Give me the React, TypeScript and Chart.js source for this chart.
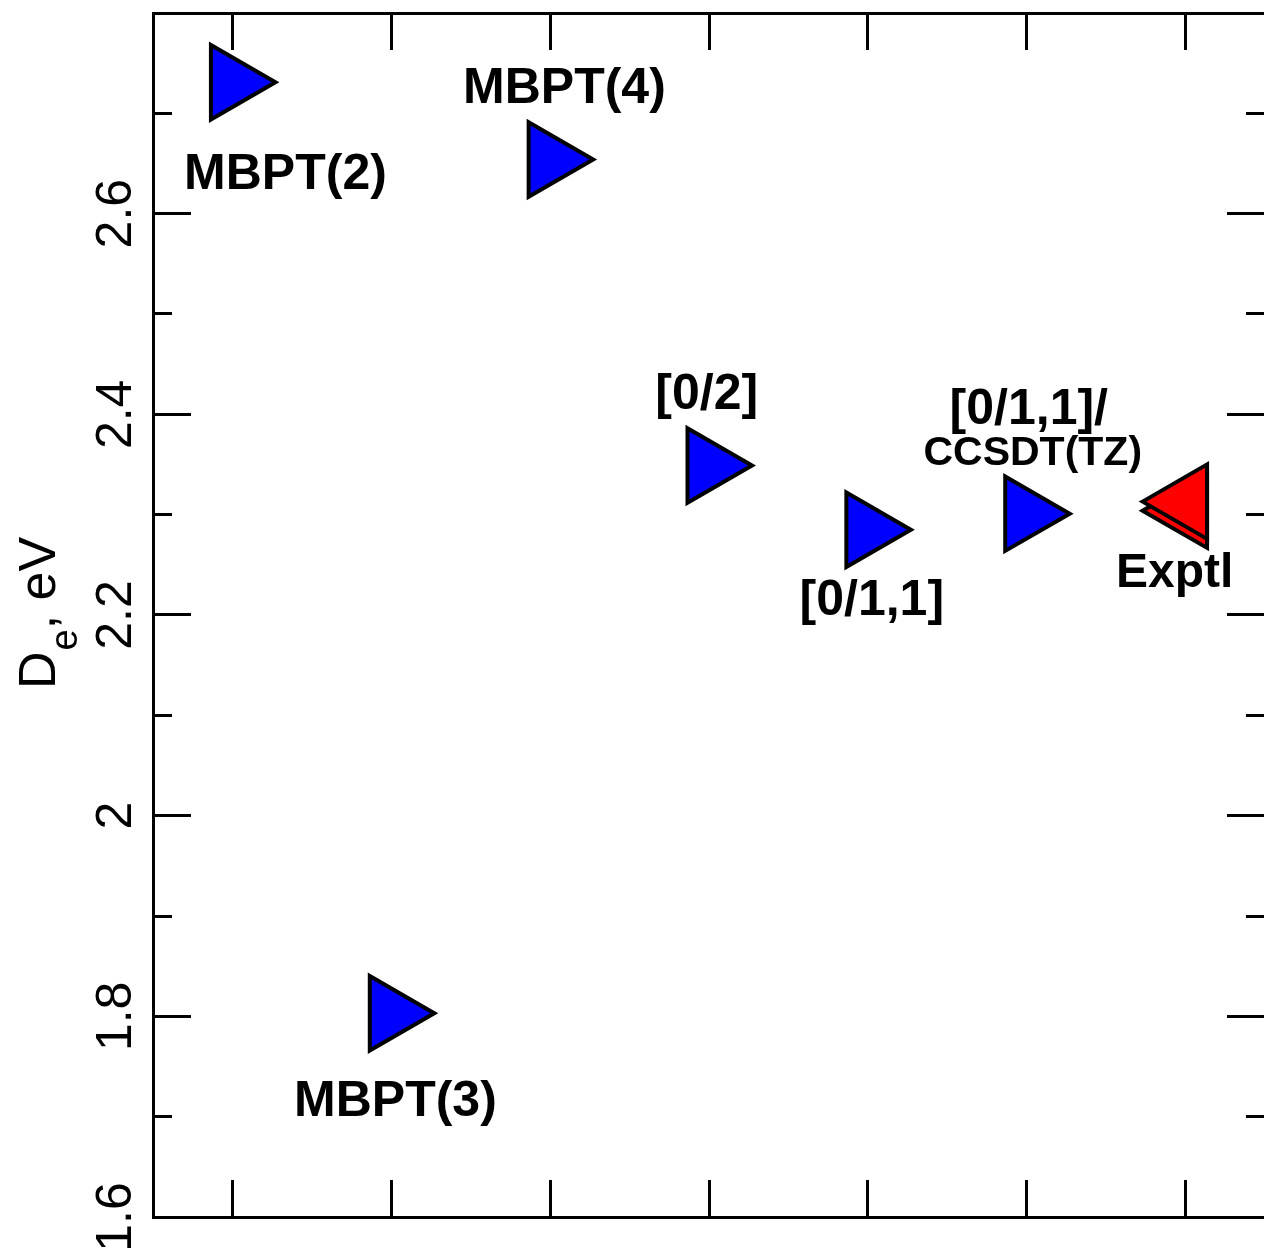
import { useEffect, useRef } from 'react';
import { Chart, registerables } from 'chart.js';

Chart.register(...registerables);

const FAMILY = '"Liberation Sans", Arial, Helvetica, sans-serif';

// Methods (x position index) and dissociation energies D_e (eV)
const methodNames = ['MBPT(2)', 'MBPT(3)', 'MBPT(4)', '[0/2]', '[0/1,1]', '[0/1,1]/CCSDT(TZ)'];
const methodX = [1, 2, 3, 4, 5, 6];
const methodDe = [2.731, 1.803, 2.654, 2.349, 2.285, 2.301];

// Experimental values (two overlapping markers)
const exptlX = [7, 7];
const exptlDe = [2.304, 2.313];

// Axis ticks
const xTickValues = [1, 2, 3, 4, 5, 6, 7];
const yMajorTicks = [1.6, 1.8, 2.0, 2.2, 2.4, 2.6];
const yMinorTicks = [1.7, 1.9, 2.1, 2.3, 2.5, 2.7];

// Text annotations (anchored in data coordinates, baseline)
const annotationTexts = ['MBPT(2)', 'MBPT(3)', 'MBPT(4)', '[0/2]', '[0/1,1]', '[0/1,1]/', 'CCSDT(TZ)', 'Exptl'];
const annotationX = [1.334, 2.026, 3.09, 3.986, 5.025, 6.013, 6.038, 6.932];
const annotationY = [2.625, 1.7006, 2.7106, 2.405, 2.1996, 2.39, 2.35, 2.2275];
const annotationSizes = [50, 50, 50, 50, 50, 50, 41, 48];

const X_MIN = 0.5;
const X_MAX = 7.5;
const Y_MIN = 1.6;
const Y_MAX = 2.8;

const annotationPlugin = {
  id: 'annotationTexts',
  afterDatasetsDraw(chart: any) {
    const { ctx, scales } = chart;
    const xs = scales.x;
    const ys = scales.y;
    ctx.save();
    ctx.fillStyle = '#000';
    ctx.textAlign = 'center';
    ctx.textBaseline = 'alphabetic';
    annotationTexts.forEach((t, i) => {
      ctx.font = `bold ${annotationSizes[i]}px ${FAMILY}`;
      ctx.fillText(t, xs.getPixelForValue(annotationX[i]), ys.getPixelForValue(annotationY[i]));
    });
    ctx.restore();
  },
};

const yTitlePlugin = {
  id: 'yTitle',
  afterDraw(chart: any) {
    const ctx = chart.ctx;
    ctx.save();
    ctx.fillStyle = '#000';
    ctx.translate(55, 689);
    ctx.rotate(-Math.PI / 2);
    ctx.textAlign = 'left';
    ctx.textBaseline = 'alphabetic';
    ctx.font = `52px ${FAMILY}`;
    ctx.fillText('D', 0, 0);
    let w = ctx.measureText('D').width;
    ctx.font = `38px ${FAMILY}`;
    ctx.fillText('e', w + 1, 22);
    w += ctx.measureText('e').width + 1;
    ctx.font = `52px ${FAMILY}`;
    ctx.fillText(', eV', w, 0);
    ctx.restore();
  },
};

function zeroPad(s: any) {
  s.paddingTop = 0;
  s.paddingBottom = 0;
  s.paddingLeft = 0;
  s.paddingRight = 0;
}

export default function App() {
  const ref = useRef<HTMLCanvasElement | null>(null);

  useEffect(() => {
    if (!ref.current) return;
    const tickGrid = (len: number) => ({
      display: true,
      drawOnChartArea: false,
      drawTicks: true,
      tickLength: len,
      tickWidth: 3,
      tickColor: '#000',
    });
    const frame = { display: true, width: 3, color: '#000' };
    const noFrame = { display: false };

    const chart = new Chart(ref.current, {
      type: 'scatter',
      data: {
        datasets: [
          {
            label: 'Methods',
            data: methodX.map((x, i) => ({ x, y: methodDe[i] })),
            pointStyle: 'triangle',
            pointRotation: 90,
            pointRadius: 43,
            pointBackgroundColor: '#0000ff',
            pointBorderColor: '#000',
            pointBorderWidth: 4,
            backgroundColor: '#0000ff',
            borderColor: '#000',
            xAxisID: 'x',
            yAxisID: 'y',
          } as any,
          {
            label: 'Exptl',
            data: exptlX.map((x, i) => ({ x, y: exptlDe[i] })),
            pointStyle: 'triangle',
            pointRotation: -90,
            pointRadius: 43,
            pointBackgroundColor: '#ff0000',
            pointBorderColor: '#000',
            pointBorderWidth: 4,
            backgroundColor: '#ff0000',
            borderColor: '#000',
            xAxisID: 'x',
            yAxisID: 'y',
          } as any,
        ],
      },
      options: {
        animation: false,
        responsive: false,
        devicePixelRatio: 1,
        events: [],
        layout: {
          autoPadding: false,
          padding: { left: 0, top: 13, right: 15, bottom: 33 },
        },
        plugins: {
          legend: { display: false },
          tooltip: { enabled: false },
          title: { display: false },
        },
        scales: {
          x: {
            type: 'linear',
            axis: 'x',
            position: 'bottom',
            min: X_MIN,
            max: X_MAX,
            afterBuildTicks: (s: any) => {
              s.ticks = xTickValues.map((value) => ({ value }));
            },
            afterFit: (s: any) => {
              s.height = 0;
              zeroPad(s);
            },
            grid: tickGrid(-37),
            border: frame,
            ticks: { display: false },
          },
          xTop: {
            type: 'linear',
            axis: 'x',
            position: 'top',
            min: X_MIN,
            max: X_MAX,
            afterBuildTicks: (s: any) => {
              s.ticks = xTickValues.map((value) => ({ value }));
            },
            afterFit: (s: any) => {
              s.height = 0;
              zeroPad(s);
            },
            grid: tickGrid(-37),
            border: frame,
            ticks: { display: false },
          },
          y: {
            type: 'linear',
            axis: 'y',
            position: 'left',
            weight: 2,
            min: Y_MIN,
            max: Y_MAX,
            afterBuildTicks: (s: any) => {
              s.ticks = yMajorTicks.map((value) => ({ value }));
            },
            afterFit: (s: any) => {
              s.width = 153;
              zeroPad(s);
            },
            grid: tickGrid(-38),
            border: frame,
            ticks: {
              display: true,
              minRotation: 90,
              maxRotation: 90,
              crossAlign: 'center',
              padding: 39,
              color: '#000',
              font: { size: 50, family: FAMILY },
              callback: (v: any) => String(+Number(v).toFixed(1)),
            },
          },
          yMinor: {
            type: 'linear',
            axis: 'y',
            position: 'left',
            weight: 1,
            min: Y_MIN,
            max: Y_MAX,
            afterBuildTicks: (s: any) => {
              s.ticks = yMinorTicks.map((value) => ({ value }));
            },
            afterFit: (s: any) => {
              s.width = 0;
              zeroPad(s);
            },
            grid: tickGrid(-19),
            border: noFrame,
            ticks: { display: false },
          },
          yRight: {
            type: 'linear',
            axis: 'y',
            position: 'right',
            weight: 1,
            min: Y_MIN,
            max: Y_MAX,
            afterBuildTicks: (s: any) => {
              s.ticks = yMajorTicks.map((value) => ({ value }));
            },
            afterFit: (s: any) => {
              s.width = 0;
              zeroPad(s);
            },
            grid: tickGrid(-38),
            border: frame,
            ticks: { display: false },
          },
          yRightMinor: {
            type: 'linear',
            axis: 'y',
            position: 'right',
            weight: 2,
            min: Y_MIN,
            max: Y_MAX,
            afterBuildTicks: (s: any) => {
              s.ticks = yMinorTicks.map((value) => ({ value }));
            },
            afterFit: (s: any) => {
              s.width = 0;
              zeroPad(s);
            },
            grid: tickGrid(-19),
            border: noFrame,
            ticks: { display: false },
          },
        },
      } as any,
      plugins: [annotationPlugin, yTitlePlugin],
    });
    return () => chart.destroy();
  }, []);

  return (
    <div
      style={{
        position: 'fixed',
        left: 0,
        top: 0,
        width: 1264,
        height: 1250,
        overflow: 'hidden',
        background: '#fff',
      }}
    >
      <canvas
        ref={ref}
        width={1280}
        height={1250}
        style={{ display: 'block', width: 1280, height: 1250 }}
        aria-label={methodNames.join(', ')}
      />
    </div>
  );
}
